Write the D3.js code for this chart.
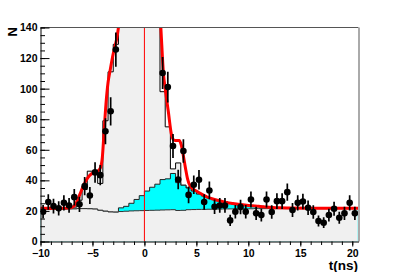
<!DOCTYPE html>
<html>
<head>
<meta charset="utf-8">
<script src="https://cdn.jsdelivr.net/npm/d3@7"></script>
<style>
  html, body { margin: 0; padding: 0; background: #fff; }
  svg { display: block; font-family: "Liberation Sans", Arial, sans-serif; }
  .tick text { font-weight: bold; font-size: 10.5px; fill: #000; }
</style>
</head>
<body>
<svg id="chart" width="399" height="272"></svg>
<script>
// bins of 0.5 ns from -10 to 20.5, given by their centres
var binCentres = d3.range(-9.75, 20.3, 0.5);
var binWidth = 0.5;

// measured counts (null = above the frame)
var dataN = [19.5, 25.8, 23.2, 21.7, 25.3, 23.6, 29, 24.3, 36.2, 30.1, 45.2, 43.4, 72.1, 85.2, 125.6,
  null, null, null, null, null, null, null, null,
  110.2, 101, 62.5, 40.6, 59.2, 30.5, 37.1, 40.4, 25.8, 33.4, 22.7, 23.6, 23.6, 13.8, 19.5, 22.5, 19.5,
  27.5, 18.4, 17.3, 27.5, 19.3, 26.4, 26.4, 32.3, 20.6, 25.3, 26.2, 22.1, 19.3, 13.4, 12.3, 17.3,
  21.4, 15.5, 18.4, 25.3, 18.4];

// total simulated histogram (grey, black outline)
var totalN = [21.8, 21.8, 21.8, 21.8, 21.8, 21.8, 22.5, 27, 34, 46, 46, 38, 79, 111, 129,
  175, 240, 300, 350, 380, 370, 320, 230,
  98, 75, 47.5, 51.4, 36.8, 35, 33, 31, 29.7, 28.5, 27.5, 26.8, 26, 25.3, 24.8, 24.3, 23.9,
  23.6, 23.3, 23, 22.7, 22.4, 22.2, 22, 21.9, 21.9, 21.9, 21.8, 21.8, 21.8, 21.8, 21.8, 21.8,
  21.8, 21.8, 21.8, 21.8, 21.8];

// background + cyan component (top of the cyan band)
var cyanTopN = [20.8, 20.9, 21, 21, 21.1, 21.2, 21.3, 21.5, 21.5, 21.4, 21.2, 20.4, 19.8, 19.3, 19.2,
  22, 23, 25, 27.5, 30, 33, 35.5, 37.5,
  40.5, 41, 44.5, 38.5, 36.8, 35, 33, 31, 29.7, 28.5, 27.5, 26.8, 26, 25.3, 24.8, 24.3, 23.9,
  23.6, 23.3, 23, 22.7, 22.4, 22.2, 22, 21.9, 21.9, 21.9, 21.8, 21.8, 21.8, 21.8, 21.8, 21.8,
  21.8, 21.8, 21.8, 21.8, 21.8];

// flat background (grey, dark outline)
var bgN = [20.8, 20.9, 21, 21, 21.1, 21.2, 21.3, 21.5, 21.5, 21.4, 21.2, 20.4, 19.8, 19.3, 19.2,
  19.6, 19.8, 20, 20.1, 20.2, 20.3, 20.4, 20.5,
  20.6, 20.7, 20.8, 20.3, 20.4, 20.8, 20.9, 21, 21, 21.1, 21.2, 21.2, 21.3, 21.3, 21.4, 21.4, 21.4,
  21.4, 21.5, 21.5, 21.5, 21.5, 21.5, 21.5, 21.5, 21.5, 21.5, 21.5, 21.5, 21.5, 21.5, 21.5, 21.5,
  21.5, 21.5, 21.5, 21.5, 21.5];

// fitted curve
var fitT = [-10, -8, -7.2, -6.8, -6.5, -6.2, -5.9, -5.6, -5.3, -4.9, -4.5, -4.25, -4.05, -3.9, -3.7, -3.5,
  -3.3, -3.0, -2.75, -2.5, -2.3, -0.5, 1.3, 1.45, 1.58, 1.83, 2.0, 2.3, 2.6, 2.8, 3.0, 3.35, 3.55, 3.75,
  3.95, 4.15, 4.35, 4.6, 5.0, 5.5, 6.0, 6.5, 7.0, 7.5, 8.0, 8.5, 9, 10, 11, 12, 13, 14, 16, 18, 20.6];
var fitN = [21.8, 21.8, 22, 23, 26, 31, 36, 40, 43, 45, 46, 48, 55, 70, 90, 104,
  112, 123, 130, 140, 155, 520, 180, 155, 140, 110, 100, 85, 70, 66.5, 66, 66, 63, 56,
  48, 41, 37, 34.7, 33, 31, 29.2, 28, 27, 26.2, 25.4, 24.9, 24.4, 23.6, 23, 22.4, 22, 21.9, 21.8, 21.8, 21.8];

var xTicks = [-10, -5, 0, 5, 10, 15, 20];
var yTicks = [0, 20, 40, 60, 80, 100, 120, 140];

var svg = d3.select('#chart');
var x = d3.scaleLinear().domain([-10, 20.6]).range([40.5, 358.5]);
var y = d3.scaleLinear().domain([0, 140]).range([241.5, 27.5]);

svg.append('clipPath').attr('id', 'plot')
  .append('rect')
  .attr('x', x.range()[0]).attr('y', y.range()[1])
  .attr('width', x.range()[1] - x.range()[0])
  .attr('height', y.range()[0] - y.range()[1]);

var g = svg.append('g').attr('clip-path', 'url(#plot)');

// step points from bin values
function steps(vals) {
  var pts = binCentres.map(function(c, i) { return [c - binWidth / 2, vals[i]]; });
  pts.push([binCentres[binCentres.length - 1] + binWidth / 2, vals[vals.length - 1]]);
  return pts;
}

var area = d3.area()
  .x(function(d) { return x(d[0]); })
  .y0(y(0))
  .y1(function(d) { return y(d[1]); })
  .curve(d3.curveStepAfter);
var stepLine = d3.line()
  .x(function(d) { return x(d[0]); })
  .y(function(d) { return y(d[1]); })
  .curve(d3.curveStepAfter);

function drawHist(vals, fill, stroke) {
  var pts = steps(vals);
  g.append('path').attr('d', area(pts)).attr('fill', fill);
  g.append('path').attr('d', stepLine(pts))
    .attr('fill', 'none').attr('stroke', stroke).attr('stroke-width', 1);
}

drawHist(totalN, '#f0f0f0', '#000');
drawHist(cyanTopN, '#00ffff', '#222');
drawHist(bgN, '#f0f0f0', '#333');

// t = 0 marker
g.append('line')
  .attr('x1', x(0)).attr('x2', x(0))
  .attr('y1', y(0)).attr('y2', y(140))
  .attr('stroke', '#ff0000').attr('stroke-width', 1);

// fit
var fitLine = d3.line()
  .x(function(d) { return x(d[0]); })
  .y(function(d) { return y(d[1]); })
  .curve(d3.curveMonotoneX);
g.append('path')
  .attr('d', fitLine(fitT.map(function(t, i) { return [t, fitN[i]]; })))
  .attr('fill', 'none').attr('stroke', '#ff0000').attr('stroke-width', 3);

// data points, poisson errors
var pts = binCentres.map(function(c, i) { return {t: c, n: dataN[i]}; })
  .filter(function(d) { return d.n !== null; });

g.selectAll('.err').data(pts).enter().append('line')
  .attr('x1', function(d) { return x(d.t); })
  .attr('x2', function(d) { return x(d.t); })
  .attr('y1', function(d) { return y(d.n - Math.sqrt(d.n)); })
  .attr('y2', function(d) { return y(d.n + Math.sqrt(d.n)); })
  .attr('stroke', '#000').attr('stroke-width', 1.7);

g.selectAll('.pt').data(pts).enter().append('circle')
  .attr('cx', function(d) { return x(d.t); })
  .attr('cy', function(d) { return y(d.n); })
  .attr('r', 3.3)
  .attr('fill', '#000');

// frame
svg.append('line')
  .attr('x1', x.range()[0]).attr('x2', x.range()[1])
  .attr('y1', y(140)).attr('y2', y(140))
  .attr('stroke', '#555').attr('stroke-width', 1);
svg.append('line')
  .attr('x1', x.range()[1] + 0.5).attr('x2', x.range()[1] + 0.5)
  .attr('y1', y(140)).attr('y2', y(0))
  .attr('stroke', '#aaa').attr('stroke-width', 2);

// y axis, ticks inside
svg.append('g')
  .attr('transform', 'translate(' + x.range()[0] + ',0)')
  .call(d3.axisLeft(y).tickValues(d3.range(0, 141, 5)).tickSizeInner(-4.5).tickSizeOuter(0).tickFormat(''))
  .call(function(a) { a.select('.domain').remove(); });
svg.append('g')
  .attr('transform', 'translate(' + x.range()[0] + ',0)')
  .call(d3.axisLeft(y).tickValues(yTicks).tickSizeInner(-9).tickSizeOuter(0).tickPadding(3))
  .call(function(a) {
    a.select('.domain').attr('stroke', '#000');
    a.selectAll('.tick line').attr('stroke', '#000');
  });

// x axis, ticks below
svg.append('g')
  .attr('transform', 'translate(0,' + y(0) + ')')
  .call(d3.axisBottom(x).tickValues(d3.range(-10, 21, 1)).tickSizeInner(3.5).tickSizeOuter(0).tickFormat(''))
  .call(function(a) { a.select('.domain').remove(); });
svg.append('g')
  .attr('transform', 'translate(0,' + y(0) + ')')
  .call(d3.axisBottom(x).tickValues(xTicks).tickSizeInner(5).tickSizeOuter(0).tickPadding(3))
  .call(function(a) {
    a.select('.domain').attr('stroke', '#000');
    a.selectAll('.tick text').attr('dy', '0.71em');
  });

// titles
svg.append('text')
  .attr('x', 358).attr('y', 270)
  .attr('text-anchor', 'end')
  .attr('font-weight', 'bold').attr('font-size', 13.5)
  .text('t(ns)');
svg.append('text')
  .attr('transform', 'translate(17,27) rotate(-90)')
  .attr('text-anchor', 'end')
  .attr('font-weight', 'bold').attr('font-size', 13)
  .text('N');
</script>
</body>
</html>
